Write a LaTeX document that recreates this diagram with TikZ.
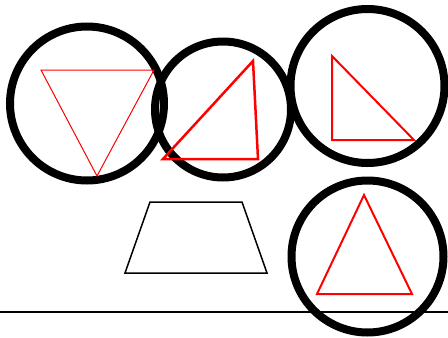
\documentclass[tikz,border=0pt]{standalone}
\begin{document}
\begin{tikzpicture}[x=1pt,y=-1pt,
  ring/.style={draw=black,line width=8pt},
  redtri/.style={draw=red},
  blk/.style={draw=black,line width=1.5pt}]
\useasboundingbox (0,0) rectangle (448,338);
% circles
\draw[ring] (87,103.5) circle (77);
\draw[ring] (223,109.5) circle (68);
\draw[ring] (367.5,86) circle (77);
\draw[ring] (367.5,256.5) circle (76);
% triangles
\draw[redtri,line width=1pt] (41,70) -- (154,70) -- (97,176) -- cycle;
\draw[redtri,line width=2.5pt] (163,159) -- (253,61) -- (258,159) -- cycle;
\draw[redtri,line width=2pt] (332,56) -- (332,140) -- (414,140) -- cycle;
\draw[redtri,line width=2pt] (364,195) -- (412,294) -- (317,294) -- cycle;
% trapezoid
\draw[blk] (150,202) -- (242,202) -- (267,273) -- (125,273) -- cycle;
% ground line
\draw[blk,line width=2pt] (0,311.5) -- (448,311.5);
\end{tikzpicture}
\end{document}
